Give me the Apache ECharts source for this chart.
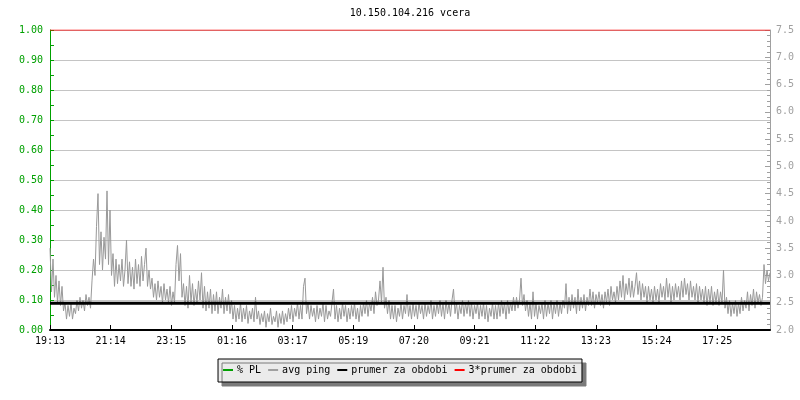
<!DOCTYPE html>
<html>
<head>
<meta charset="utf-8">
<script src="https://cdn.jsdelivr.net/npm/echarts@6/dist/echarts.min.js"></script>
<style>html,body{margin:0;padding:0;background:#fff}#c{width:800px;height:400px}</style>
</head>
<body>
<div id="c"></div>
<script>
// ---- data ----
const titleText = '10.150.104.216 vcera';
const tickLabels = ['19:13','21:14','23:15','01:16','03:17','05:19','07:20','09:21','11:22','13:23','15:24','17:25'];
const TICK_STEP = 121.3;          // minutes between x labels
const SAMPLE_MIN = 3;             // minutes between ping samples
const seriesNames = ['% PL','avg ping','prumer za obdobi','3*prumer za obdobi'];
const avgPing = [
3.5,2.7,3.3,2.6,3.0,2.5,2.9,2.45,2.8,2.35,
2.5,2.2,2.45,2.25,2.5,2.2,2.4,2.3,2.55,2.35,
2.6,2.4,2.55,2.35,2.65,2.45,2.6,2.4,2.9,3.3,
3.0,3.9,4.5,3.2,3.8,3.1,3.7,3.3,4.55,3.2,
4.2,3.0,3.4,2.8,3.3,2.85,3.2,2.9,3.3,2.8,
3.1,3.65,2.85,3.25,2.8,3.15,2.75,3.3,2.85,3.2,
2.8,3.35,2.9,3.2,3.5,2.8,3.1,2.75,2.95,2.6,
2.85,2.55,2.9,2.6,2.8,2.5,2.85,2.55,2.75,2.5,
2.8,2.45,2.7,2.5,3.2,3.55,2.9,3.4,2.6,2.85,
2.45,2.8,2.4,3.0,2.5,2.85,2.45,2.75,2.5,2.9,
2.55,3.05,2.4,2.8,2.35,2.7,2.4,2.75,2.3,2.65,
2.35,2.7,2.3,2.6,2.4,2.75,2.3,2.6,2.35,2.65,
2.3,2.55,2.2,2.45,2.15,2.4,2.2,2.5,2.15,2.4,
2.2,2.45,2.12,2.35,2.2,2.4,2.15,2.6,2.2,2.35,
2.1,2.3,2.15,2.35,2.05,2.3,2.15,2.4,2.1,2.25,
2.15,2.35,2.05,2.3,2.12,2.35,2.1,2.3,2.15,2.4,
2.2,2.45,2.15,2.4,2.25,2.5,2.2,2.45,2.2,2.8,
2.95,2.3,2.5,2.2,2.45,2.25,2.4,2.15,2.45,2.2,
2.4,2.25,2.5,2.15,2.45,2.2,2.35,2.25,2.5,2.75,
2.2,2.45,2.15,2.4,2.2,2.5,2.25,2.45,2.15,2.4,
2.2,2.45,2.25,2.5,2.2,2.4,2.15,2.45,2.25,2.5,
2.3,2.55,2.25,2.5,2.35,2.6,2.3,2.7,2.45,2.55,
2.9,2.5,3.15,2.4,2.6,2.3,2.55,2.2,2.45,2.2,
2.45,2.15,2.4,2.25,2.5,2.2,2.45,2.3,2.65,2.25,
2.45,2.2,2.5,2.25,2.45,2.2,2.5,2.3,2.45,2.2,
2.5,2.25,2.45,2.3,2.55,2.2,2.45,2.25,2.5,2.3,
2.55,2.25,2.5,2.2,2.55,2.3,2.5,2.25,2.55,2.75,
2.3,2.5,2.2,2.45,2.3,2.55,2.25,2.5,2.3,2.55,
2.25,2.5,2.2,2.45,2.3,2.5,2.2,2.45,2.25,2.5,
2.2,2.45,2.15,2.4,2.25,2.5,2.2,2.45,2.2,2.5,
2.25,2.55,2.3,2.5,2.2,2.55,2.3,2.5,2.35,2.6,
2.35,2.6,2.4,2.55,2.95,2.45,2.65,2.35,2.55,2.25,
2.5,2.2,2.7,2.25,2.5,2.2,2.45,2.3,2.5,2.2,
2.55,2.25,2.5,2.3,2.55,2.2,2.5,2.3,2.55,2.25,
2.5,2.3,2.55,2.4,2.85,2.3,2.6,2.35,2.65,2.4,
2.6,2.3,2.75,2.35,2.6,2.4,2.65,2.35,2.6,2.45,
2.75,2.45,2.7,2.4,2.65,2.5,2.7,2.45,2.65,2.4,
2.7,2.5,2.75,2.45,2.8,2.55,2.7,2.5,2.8,2.55,
2.9,2.6,3.0,2.55,2.85,2.65,2.95,2.6,2.9,2.6,
2.8,3.05,2.65,2.9,2.55,2.85,2.6,2.8,2.5,2.8,
2.55,2.75,2.5,2.8,2.55,2.75,2.5,2.85,2.6,2.8,
2.55,2.95,2.6,2.85,2.5,2.8,2.55,2.85,2.6,2.8,
2.55,2.9,2.6,2.95,2.65,2.85,2.55,2.9,2.6,2.8,
2.55,2.85,2.5,2.8,2.55,2.75,2.5,2.8,2.45,2.75,
2.5,2.8,2.45,2.7,2.5,2.75,2.45,2.7,2.5,3.1,
2.4,2.6,2.3,2.55,2.25,2.5,2.3,2.55,2.25,2.5,
2.3,2.6,2.35,2.55,2.4,2.7,2.35,2.65,2.45,2.75,
2.4,2.7,2.5,2.65,2.45,2.6,3.2,2.85,3.1,2.9,
3.05
];
const packetLoss = [0, 0];        // % PL at start and end of the period
const periodAvg = 2.49;           // prumer za obdobi
const periodAvg3 = 7.5;           // 3*prumer za obdobi
const leftAxis = {min: 0, max: 1, interval: 0.1};
const rightAxis = {min: 2, max: 7.5, interval: 0.5};

// ---- build chart ----
const SPAN = (avgPing.length - 1) * SAMPLE_MIN;
const pingData = avgPing.map((v, i) => [i * SAMPLE_MIN, v]);
const plData = packetLoss.map((v, i) => [i * SPAN, v]);
const avgData = [[0, periodAvg], [SPAN, periodAvg]];
const avg3Data = [[0, periodAvg3], [SPAN, periodAvg3]];

const FONT = 'DejaVu Sans Mono';
const GREEN = '#00a000', GRAY = '#a0a0a0';

const chart = echarts.init(document.getElementById('c'), null, {renderer: 'canvas'});
chart.setOption({
  animation: false,
  backgroundColor: '#ffffff',
  graphic: [{
    type: 'text', x: 410, y: 13,
    style: {text: titleText, fill: '#000', font: '10px "' + FONT + '"', textAlign: 'center', textVerticalAlign: 'middle'}
  }],
  grid: {left: 50, right: 30, top: 30, bottom: 70, containLabel: false},
  legend: {
    left: 'center', top: 359,
    data: seriesNames,
    icon: 'rect', itemWidth: 10, itemHeight: 2, itemGap: 7,
    padding: [6, 5, 7, 5],
    backgroundColor: '#ebebeb', borderColor: '#000', borderWidth: 1,
    shadowColor: '#7a7a7a', shadowBlur: 0, shadowOffsetX: 4, shadowOffsetY: 4,
    textStyle: {fontFamily: FONT, fontSize: 10, color: '#000', padding: [0, 0, 0, -1]}
  },
  xAxis: {
    type: 'value', min: 0, max: SPAN, interval: TICK_STEP, z: 10,
    axisLine: {lineStyle: {color: '#000', width: 2}},
    axisTick: {inside: true, length: 5, lineStyle: {color: '#000', width: 1}},
    splitLine: {show: false},
    axisLabel: {
      fontFamily: FONT, fontSize: 10, color: '#000', margin: 6, showMaxLabel: false,
      formatter: function (v) {
        const k = Math.round(v / TICK_STEP);
        return Math.abs(v - k * TICK_STEP) < 1e-6 ? (tickLabels[k] || '') : '';
      }
    }
  },
  yAxis: [{
    type: 'value', position: 'left', min: leftAxis.min, max: leftAxis.max, interval: leftAxis.interval,
    axisLine: {show: true, lineStyle: {color: GREEN, width: 1}},
    axisTick: {show: true, inside: true, length: 4, lineStyle: {color: GREEN}},
    minorTick: {show: true, splitNumber: 2, length: 4, lineStyle: {color: GREEN}},
    splitLine: {show: true, lineStyle: {color: '#c4c4c4', width: 1}},
    axisLabel: {fontFamily: FONT, fontSize: 10, color: GREEN, margin: 7, formatter: v => v.toFixed(2)}
  }, {
    type: 'value', position: 'right', min: rightAxis.min, max: rightAxis.max, interval: rightAxis.interval,
    axisLine: {show: true, lineStyle: {color: GRAY, width: 1}},
    axisTick: {show: true, inside: true, length: 5, lineStyle: {color: GRAY}},
    minorTick: {show: true, splitNumber: 5, length: 3, lineStyle: {color: GRAY}},
    splitLine: {show: false},
    axisLabel: {fontFamily: FONT, fontSize: 10, color: GRAY, margin: 6, formatter: v => v.toFixed(1)}
  }],
  series: [{
    name: seriesNames[0], type: 'line', yAxisIndex: 0, data: plData, symbol: 'none',
    lineStyle: {color: GREEN, width: 1}, itemStyle: {color: GREEN}, z: 1
  }, {
    name: seriesNames[1], type: 'line', yAxisIndex: 1, data: pingData, symbol: 'none',
    lineStyle: {color: '#999999', width: 1}, itemStyle: {color: GRAY}, z: 2
  }, {
    name: seriesNames[2], type: 'line', yAxisIndex: 1, data: avgData, symbol: 'none',
    lineStyle: {color: '#000', width: 3}, itemStyle: {color: '#000'}, z: 3
  }, {
    name: seriesNames[3], type: 'line', yAxisIndex: 1, data: avg3Data, symbol: 'none',
    lineStyle: {color: '#ff0000', width: 1}, itemStyle: {color: '#ff0000'}, z: 3
  }]
});
</script>
</body>
</html>
